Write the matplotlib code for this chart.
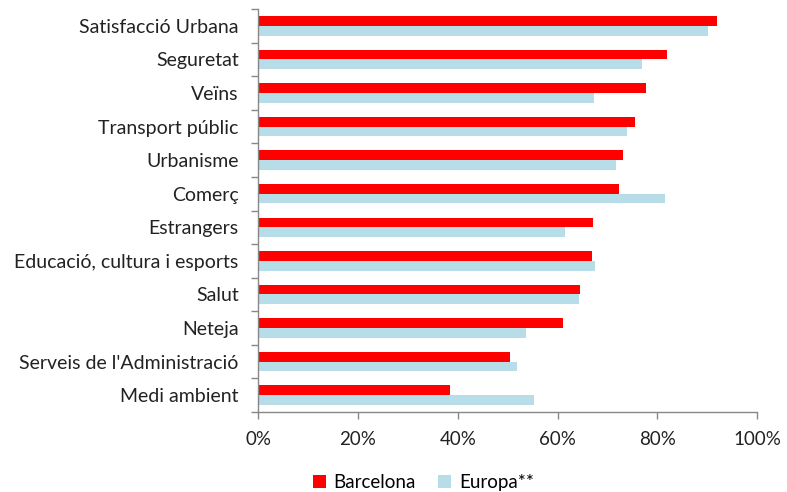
import matplotlib
matplotlib.use("Agg")
import matplotlib.pyplot as plt
import numpy as np
from matplotlib.ticker import FixedLocator, PercentFormatter

categories = ["Satisfacció Urbana", "Seguretat", "Veïns", "Transport públic", "Urbanisme",
              "Comerç", "Estrangers", "Educació, cultura i esports", "Salut", "Neteja",
              "Serveis de l'Administració", "Medi ambient"]
barcelona = [92.0, 82.0, 77.7, 75.6, 73.1, 72.4, 67.1, 66.9, 64.6, 61.0, 50.5, 38.5]
europa = [90.1, 76.9, 67.3, 74.0, 71.8, 81.6, 61.5, 67.5, 64.4, 53.6, 51.8, 55.2]
xticks = [0, 20, 40, 60, 80, 100]

plt.rcParams['font.family'] = ['Lato', 'DejaVu Sans']

fig = plt.figure(figsize=(7.87, 4.92), dpi=100)
ax = fig.add_axes([0.328, 0.1626, 0.634, 0.8191])

n = len(categories)
y = np.arange(n)
h = 0.29
ax.barh(y - h / 2, barcelona, height=h, color="#FF0000", label="Barcelona")
ax.barh(y + h / 2, europa, height=h, color="#B7DDE8", label="Europa**")

ax.set_ylim(n - 0.5, -0.5)
ax.set_xlim(0, 100)
ax.set_yticks(y)
ax.set_yticklabels(categories, fontsize=14, color="#222222")
ax.yaxis.set_minor_locator(FixedLocator(np.arange(-0.5, n, 1.0)))
ax.tick_params(axis='y', which='major', length=0, pad=14)
ax.tick_params(axis='y', which='minor', length=5, color="#888888", width=1)
ax.set_xticks(xticks)
ax.xaxis.set_major_formatter(PercentFormatter(decimals=0))
ax.tick_params(axis='x', length=5, color="#888888", width=1, labelsize=13.5, pad=9, labelcolor="#222222")

for s in ['top', 'right']:
    ax.spines[s].set_visible(False)
for s in ['left', 'bottom']:
    ax.spines[s].set_color("#888888")
    ax.spines[s].set_linewidth(1)

fig.legend(loc='lower center', bbox_to_anchor=(0.538, -0.032), ncol=2, frameon=False,
           fontsize=13.5, handlelength=0.7, handleheight=0.7, handletextpad=0.4, columnspacing=1.2)

fig.savefig("out.png", dpi=100)
